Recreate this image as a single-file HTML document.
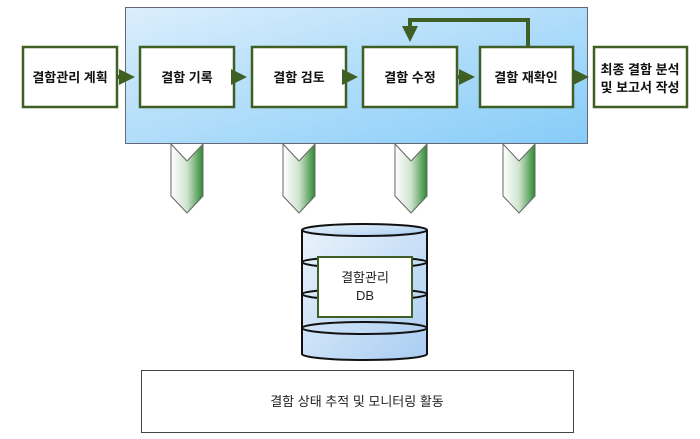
<!DOCTYPE html>
<html><head><meta charset="utf-8"><style>
body{margin:0;background:#fff;}
svg text{font-family:"Liberation Sans","Noto Sans CJK KR",sans-serif;}
</style></head><body>
<svg width="700" height="434" viewBox="0 0 700 434" xmlns="http://www.w3.org/2000/svg">
<defs>
<linearGradient id="bg" x1="0" y1="0" x2="1" y2="1">
<stop offset="0" stop-color="#dbeefc"/><stop offset="1" stop-color="#86ccf8"/></linearGradient>
<linearGradient id="ch" x1="0" y1="0" x2="1" y2="0">
<stop offset="0" stop-color="#ffffff"/><stop offset="0.5" stop-color="#cfe3cf"/><stop offset="1" stop-color="#2e8b32"/></linearGradient>
<linearGradient id="db" x1="0" y1="0" x2="1" y2="1">
<stop offset="0" stop-color="#eaf3fc"/><stop offset="1" stop-color="#a9cdf2"/></linearGradient>
<marker id="ar" markerWidth="4" markerHeight="4" refX="3" refY="2" orient="auto" markerUnits="strokeWidth"><path d="M0,0L4,2L0,4z" fill="#3f5f24"/></marker>
</defs>
<rect x="125.5" y="7.5" width="462" height="136" fill="url(#bg)" stroke="#667" stroke-width="1"/>
<g fill="#fff" stroke="#3f5f24" stroke-width="2.5">
<rect x="23" y="47" width="94" height="60"/>
<rect x="140" y="47" width="94" height="60"/>
<rect x="252" y="47" width="94" height="60"/>
<rect x="363" y="47" width="94" height="60"/>
<rect x="480" y="47" width="93" height="60"/>
<rect x="594" y="47" width="93" height="60"/>
</g>
<g stroke="#3f5f24" stroke-width="4" fill="none" marker-end="url(#ar)">
<line x1="117" y1="77" x2="131" y2="77"/>
<line x1="234" y1="77" x2="243" y2="77"/>
<line x1="346" y1="77" x2="354" y2="77"/>
<line x1="457" y1="77" x2="471" y2="77"/>
<line x1="573" y1="77" x2="585" y2="77"/>
<path d="M528,47V20H410V38"/>
</g>
<g font-weight="bold" font-size="13" text-anchor="middle" fill="#111">
<text x="70" y="82">결함관리 계획</text>
<text x="187" y="82">결함 기록</text>
<text x="299" y="82">결함 검토</text>
<text x="410" y="82">결함 수정</text>
<text x="526" y="82">결함 재확인</text>
<text x="640" y="74">최종 결함 분석</text>
<text x="640" y="92">및 보고서 작성</text>
</g>
<g fill="url(#ch)" stroke="#666" stroke-width="1">
<path d="M171,144L187,161L203,144V196L187,213L171,196Z"/>
<path d="M283,144L299,161L315,144V196L299,213L283,196Z"/>
<path d="M395,144L411,161L427,144V196L411,213L395,196Z"/>
<path d="M503,144L519,161L535,144V196L519,213L503,196Z"/>
</g>
<g stroke="#111" stroke-width="2">
<path d="M302,230V354A62.5,6 0 0 0 427,354V230" fill="url(#db)"/>
<ellipse cx="364.5" cy="230" rx="62.5" ry="6" fill="url(#db)"/>
<path d="M302,262A62.5,6 0 0 0 427,262M302,262A62.5,5 0 0 1 427,262" fill="none"/>
<path d="M302,294A62.5,6 0 0 0 427,294M302,294A62.5,5 0 0 1 427,294" fill="none"/>
<path d="M302,328A62.5,6 0 0 0 427,328M302,328A62.5,6 0 0 1 427,328" fill="none"/>
</g>
<rect x="318" y="257" width="94" height="60" fill="#fff" stroke="#3f5f24" stroke-width="2"/>
<text x="365" y="282" font-size="13" text-anchor="middle" fill="#222">결함관리</text>
<text x="365" y="300" font-size="13" text-anchor="middle" fill="#222">DB</text>
<rect x="141.5" y="370.5" width="432" height="62" fill="#fff" stroke="#444" stroke-width="1"/>
<text x="357" y="406" font-size="13" text-anchor="middle" fill="#222">결함 상태 추적 및 모니터링 활동</text>
</svg>
</body></html>
